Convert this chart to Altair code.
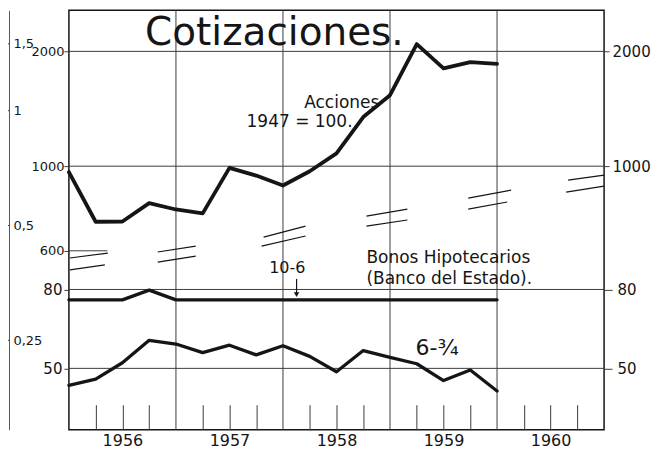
import altair as alt
import pandas as pd

# ---------------- data ----------------
quarters = [1956.0, 1956.25, 1956.5, 1956.75, 1957.0, 1957.25, 1957.5, 1957.75,
            1958.0, 1958.25, 1958.5, 1958.75, 1959.0, 1959.25, 1959.5, 1959.75, 1960.0]
acciones = [965, 715, 716, 800, 770, 752, 990, 945, 890, 970, 1080, 1345, 1535,
            2090, 1805, 1875, 1855]
bonos_10_6 = [75.2, 75.2, 75.2, 79.7, 75.2, 75.2, 75.2, 75.2, 75.2, 75.2, 75.2,
              75.2, 75.2, 75.2, 75.2, 75.2, 75.2]
bonos_6_34 = [45.2, 46.9, 51.7, 59.1, 57.8, 54.9, 57.4, 54.2, 57.2, 53.7, 49.0,
              55.6, 53.4, 51.4, 46.5, 49.5, 43.7]

year_lines = [1957, 1958, 1959, 1960]
year_label_pos = [1956.5, 1957.5, 1958.5, 1959.5, 1960.5]
quarter_ticks = [1956.25, 1956.5, 1956.75, 1957.25, 1957.5, 1957.75, 1958.25, 1958.5,
                 1958.75, 1959.25, 1959.5, 1959.75, 1960.25, 1960.5, 1960.75]

upper_ticks_left = [600, 1000, 2000]
upper_ticks_right = [1000, 2000]
upper_grid = [1000, 2000]
lower_ticks = [50, 80]
ruler_ticks = [0.25, 0.5, 1, 1.5]

# annotations (data units)
title_text = ["Cotizaciones."]
title_x = [1957.92]
title_y = [2075]
acc_text = ["Acciones", "1947 = 100."]
acc_x = [1958.90, 1958.65]
acc_y = [1419, 1265]
bonos_text = ["Bonos Hipotecarios", "(Banco del Estado)."]
bonos_x = [1958.78, 1958.78]
bonos_y = [93.7, 82.7]
rate_a_text = ["10-6"]
rate_a_x = [1958.04]
rate_a_y = [88.3]
rate_b_text = ["6-\u00be"]
rate_b_x = [1959.44]
rate_b_y = [54.2]
arrow_x = [1958.127]
arrow_top = [85.2]
arrow_tip = [77.6]
g600_x0 = [1956.0]
g600_x1 = [1956.36]
g600_y = [600]
# axis-break slashes (lower scale units)
brk_x0 = [1956.009, 1956.009, 1956.830, 1956.830, 1957.819, 1957.800, 1958.780, 1958.780,
          1959.731, 1959.731, 1960.664, 1960.646]
brk_x1 = [1956.364, 1956.336, 1957.185, 1957.185, 1958.211, 1958.211, 1959.162, 1959.162,
          1960.132, 1960.095, 1961.0, 1961.0]
brk_y0 = [96.5, 89.9, 100.0, 94.2, 109.3, 103.6, 123.9, 116.7, 137.9, 129.1, 153.5, 142.9]
brk_y1 = [99.4, 92.6, 103.6, 97.6, 116.7, 110.0, 129.1, 121.0, 144.6, 134.7, 158.1, 148.1]

# ---------------- styling ----------------
F = "DejaVu Sans"
INK = "#151515"
GRID = "#3c3c3c"
W, H = 536, 420

xs = alt.Scale(domain=[1956, 1961], nice=False, zero=False)
U = alt.Scale(type="log", domain=[203.8, 2562], nice=False)
L = alt.Scale(type="log", domain=[34.7, 422.0], nice=False)
R = alt.Scale(type="log", domain=[0.1457, 1.831], nice=False)

def xnone(field="x"):
    return alt.X(f"{field}:Q", scale=xs, axis=None)

# vertical year lines + quarter ticks (axis placed at bottom, ticks pointing up)
years_layer = alt.Chart(pd.DataFrame({"yr": year_lines})).mark_rule(
    color=GRID, strokeWidth=1).encode(
    x=alt.X("yr:Q", scale=xs, axis=alt.Axis(
        orient="top", offset=-H, values=quarter_ticks, labels=False, domain=False,
        grid=False, ticks=True, tickSize=25, tickColor=GRID, tickWidth=1, title=None)))

# upper grid + left axis
grid_up = alt.Chart(pd.DataFrame({"v": upper_grid})).mark_rule(
    color=GRID, strokeWidth=1).encode(
    y=alt.Y("v:Q", scale=U, axis=alt.Axis(
        orient="left", values=upper_ticks_left, format="d", title=None, grid=False,
        domain=False, tickSize=5, tickColor=GRID, labelPadding=0, labelFont=F,
        labelFontSize=13, labelColor=INK)))

g600 = alt.Chart(pd.DataFrame({"x0": g600_x0, "x1": g600_x1, "v": g600_y})).mark_rule(
    color=GRID, strokeWidth=1).encode(
    x=xnone("x0"), x2="x1:Q", y=alt.Y("v:Q", scale=U, axis=None))

# Acciones line with right axis and bottom year labels
acc_df = pd.DataFrame({"t": quarters, "v": acciones})
acc_line = alt.Chart(acc_df).mark_line(
    color=INK, strokeWidth=3.8, strokeJoin="round", strokeCap="round").encode(
    x=alt.X("t:Q", scale=xs, axis=alt.Axis(
        orient="bottom", values=year_label_pos, labelExpr="floor(datum.value)",
        ticks=False, domain=False, grid=False, title=None, labelFont=F,
        labelFontSize=16, labelPadding=3, labelColor=INK)),
    y=alt.Y("v:Q", scale=U, axis=alt.Axis(
        orient="right", values=upper_ticks_right, format="d", title=None, grid=False,
        domain=False, tickSize=5, tickColor=GRID, labelPadding=3, labelFont=F,
        labelFontSize=15, labelColor=INK)))

# lower grid + left axis
grid_low = alt.Chart(pd.DataFrame({"v": lower_ticks})).mark_rule(
    color=GRID, strokeWidth=1).encode(
    y=alt.Y("v:Q", scale=L, axis=alt.Axis(
        orient="left", values=lower_ticks, format="d", title=None, grid=False,
        domain=False, tickSize=5, tickColor=GRID, labelPadding=2, labelFont=F,
        labelFontSize=15, labelColor=INK)))

bonos_df = pd.DataFrame({
    "t": quarters * 2,
    "v": bonos_10_6 + bonos_6_34,
    "serie": ["10-6"] * len(quarters) + ["6-3/4"] * len(quarters),
})
bonos_lines = alt.Chart(bonos_df).mark_line(
    color=INK, strokeWidth=3.3, strokeJoin="round", strokeCap="round").encode(
    x=xnone("t"),
    y=alt.Y("v:Q", scale=L, axis=alt.Axis(
        orient="right", values=lower_ticks, format="d", title=None, grid=False,
        domain=False, tickSize=8, tickColor=GRID, labelPadding=5, labelFont=F,
        labelFontSize=15, labelColor=INK)),
    detail="serie:N")

# left ruler
ruler = alt.Chart(pd.DataFrame({"r": ruler_ticks})).mark_point(opacity=0).encode(
    y=alt.Y("r:Q", scale=R, axis=alt.Axis(
        orient="left", offset=60, values=ruler_ticks,
        labelExpr="replace(toString(datum.value), '.', ',')",
        labelAlign="left", labelPadding=-9, tickSize=5, tickColor=GRID,
        domainColor="#555555", domainWidth=1, title=None, grid=False,
        labelFont=F, labelFontSize=13, labelColor=INK)))

# break slashes
breaks = alt.Chart(pd.DataFrame({"x0": brk_x0, "x1": brk_x1, "y0": brk_y0, "y1": brk_y1})).mark_rule(
    color=INK, strokeWidth=1.2).encode(
    x=xnone("x0"), x2="x1:Q", y=alt.Y("y0:Q", scale=L, axis=None), y2="y1:Q")

# texts
title = alt.Chart(pd.DataFrame({"x": title_x, "y": title_y, "t": title_text})).mark_text(
    font=F, fontSize=39, align="center", baseline="alphabetic", color=INK).encode(
    x=xnone(), y=alt.Y("y:Q", scale=U, axis=None), text="t:N")

acc_lbl = alt.Chart(pd.DataFrame({"x": acc_x, "y": acc_y, "t": acc_text})).mark_text(
    font=F, fontSize=17, align="right", baseline="alphabetic", color=INK).encode(
    x=xnone(), y=alt.Y("y:Q", scale=U, axis=None), text="t:N")

bonos_lbl = alt.Chart(pd.DataFrame({"x": bonos_x, "y": bonos_y, "t": bonos_text})).mark_text(
    font=F, fontSize=17, align="left", baseline="alphabetic", color=INK).encode(
    x=xnone(), y=alt.Y("y:Q", scale=L, axis=None), text="t:N")

rate_a = alt.Chart(pd.DataFrame({"x": rate_a_x, "y": rate_a_y, "t": rate_a_text})).mark_text(
    font=F, fontSize=16, align="center", baseline="alphabetic", color=INK).encode(
    x=xnone(), y=alt.Y("y:Q", scale=L, axis=None), text="t:N")

rate_b = alt.Chart(pd.DataFrame({"x": rate_b_x, "y": rate_b_y, "t": rate_b_text})).mark_text(
    font=F, fontSize=22, align="center", baseline="alphabetic", color=INK).encode(
    x=xnone(), y=alt.Y("y:Q", scale=L, axis=None), text="t:N")

arrow_df = pd.DataFrame({"x": arrow_x, "a": arrow_top, "b": arrow_tip})
arrow = alt.Chart(arrow_df).mark_rule(color=INK, strokeWidth=1.2).encode(
    x=xnone(), y=alt.Y("a:Q", scale=L, axis=None), y2="b:Q")
arrow_head = alt.Chart(arrow_df).mark_point(
    shape="triangle-down", filled=True, color=INK, size=30, opacity=1).encode(
    x=xnone(), y=alt.Y("b:Q", scale=L, axis=None))

chart = alt.layer(
    years_layer, grid_up, g600, grid_low, breaks, ruler,
    acc_line, bonos_lines, title, acc_lbl, bonos_lbl, rate_a, rate_b, arrow, arrow_head,
).resolve_scale(x="independent", y="independent").properties(
    width=W, height=H,
    autosize=alt.AutoSizeParams(type="none"),
    padding={"left": 61, "top": 2, "right": 50, "bottom": 20},
    background="white",
).configure_view(stroke=INK, strokeWidth=1.5)

chart.save("out.html", embed_options={"renderer": "svg", "actions": False})
